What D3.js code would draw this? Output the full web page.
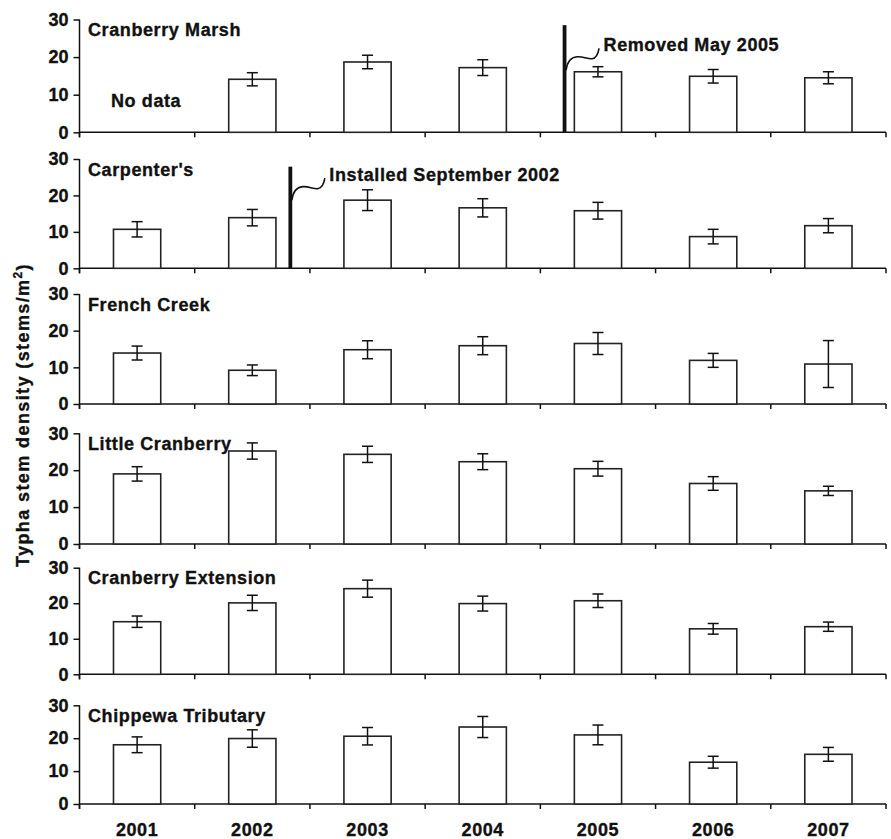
<!DOCTYPE html>
<html lang="en">
<head>
<meta charset="UTF-8" />
<title>Typha stem density</title>
<style>
  body { margin: 0; background: #fff; }
  text { font-family: "Liberation Sans", Arial, sans-serif; font-weight: bold; fill: #111; stroke: #111; stroke-width: 0.35px; }
</style>
</head>
<body>
<div id="chart"></div>
<script src="https://d3js.org/d3.v7.min.js"></script>
<script>
const width = 891;
const height = 839;

const years = ["2001", "2002", "2003", "2004", "2005", "2006", "2007"];
const sites = ["Cranberry Marsh", "Carpenter's", "French Creek", "Little Cranberry", "Cranberry Extension", "Chippewa Tributary"];
const yTicks = [0, 10, 20, 30];

// mean stem density per year (null = no data)
const cranberryMarsh = [null, 14.1, 18.7, 17.2, 16.1, 14.9, 14.5];
const carpenters = [10.7, 13.9, 18.7, 16.6, 15.8, 8.7, 11.7];
const frenchCreek = [13.9, 9.2, 14.8, 15.9, 16.5, 11.9, 10.9];
const littleCranberry = [19.0, 25.2, 24.3, 22.3, 20.4, 16.4, 14.4];
const cranberryExtension = [14.8, 20.1, 24.1, 19.9, 20.7, 12.8, 13.4];
const chippewaTributary = [18.0, 19.9, 20.6, 23.4, 21.0, 12.7, 15.1];

// standard errors
const cranberryMarshSE = [null, 1.75, 1.8, 2.1, 1.35, 1.8, 1.6];
const carpentersSE = [2.1, 2.25, 2.85, 2.5, 2.3, 2.0, 1.95];
const frenchCreekSE = [1.9, 1.45, 2.45, 2.45, 3.0, 1.9, 6.4];
const littleCranberrySE = [1.95, 2.2, 2.2, 2.15, 2.0, 1.85, 1.25];
const cranberryExtensionSE = [1.6, 2.15, 2.4, 2.1, 1.9, 1.5, 1.3];
const chippewaTributarySE = [2.4, 2.65, 2.65, 3.2, 3.0, 1.8, 2.1];

const means = [cranberryMarsh, carpenters, frenchCreek, littleCranberry, cranberryExtension, chippewaTributary];
const errors = [cranberryMarshSE, carpentersSE, frenchCreekSE, littleCranberrySE, cranberryExtensionSE, chippewaTributarySE];

// wetland treatment events
const events = [
  { site: 0, year: "2005", frac: 0.21, top: 28.5, hook: 16.5, label: "Removed May 2005" },
  { site: 1, year: "2002", frac: 0.83, top: 27.9, hook: 18.7, label: "Installed September 2002" }
];

// panel layout: pixel row of the 30 line and of the 0 line
const panelTop = [19.5, 159, 294, 433.3, 567.7, 705.3];
const panelBottom = [132.3, 268.3, 404, 544, 674.3, 804];

const svg = d3.select("#chart")
  .append("svg")
  .attr("width", width)
  .attr("height", height);

const x = d3.scaleBand()
  .domain(years)
  .range([79.5, 886])
  .padding(0);

const barW = x.bandwidth() * 0.41;
const capW = 11;

sites.forEach(function (site, i) {
  const y = d3.scaleLinear()
    .domain([0, 30])
    .range([panelBottom[i], panelTop[i]]);

  const g = svg.append("g");

  // y axis
  const yAxis = g.append("g")
    .attr("transform", "translate(" + x.range()[0] + ",0)")
    .call(d3.axisLeft(y).tickValues(yTicks).tickSize(6).tickPadding(5));
  yAxis.select(".domain").attr("d", "M0," + y(30) + "V" + (y(0) + 5)).attr("stroke", "#111").attr("stroke-width", 1.5);
  yAxis.selectAll(".tick line").attr("stroke", "#111").attr("stroke-width", 1.5);
  yAxis.selectAll(".tick text").attr("font-size", 18).attr("font-family", null).attr("fill", "#111");

  // x axis line with ticks at category boundaries
  const boundaries = years.map(function (d) { return x(d); }).concat([x.range()[1]]);
  g.append("line")
    .attr("x1", x.range()[0])
    .attr("x2", x.range()[1])
    .attr("y1", y(0))
    .attr("y2", y(0))
    .attr("stroke", "#111")
    .attr("stroke-width", 1.5);
  g.selectAll(".xtick")
    .data(boundaries)
    .enter()
    .append("line")
    .attr("x1", function (d) { return d; })
    .attr("x2", function (d) { return d; })
    .attr("y1", y(0))
    .attr("y2", y(0) + 5)
    .attr("stroke", "#111")
    .attr("stroke-width", 1.5);

  const rows = years.map(function (yr, j) {
    return { year: yr, mean: means[i][j], se: errors[i][j] };
  }).filter(function (d) { return d.mean !== null; });

  // bars
  g.selectAll(".bar")
    .data(rows)
    .enter()
    .append("rect")
    .attr("x", function (d) { return x(d.year) + (x.bandwidth() - barW) / 2; })
    .attr("y", function (d) { return y(d.mean); })
    .attr("width", barW)
    .attr("height", function (d) { return y(0) - y(d.mean); })
    .attr("fill", "#fff")
    .attr("stroke", "#222")
    .attr("stroke-width", 1.6);

  // error bars
  const err = g.selectAll(".err")
    .data(rows)
    .enter()
    .append("g")
    .attr("stroke", "#111")
    .attr("stroke-width", 1.5);
  err.append("line")
    .attr("x1", function (d) { return x(d.year) + x.bandwidth() / 2; })
    .attr("x2", function (d) { return x(d.year) + x.bandwidth() / 2; })
    .attr("y1", function (d) { return y(d.mean + d.se); })
    .attr("y2", function (d) { return y(d.mean - d.se); });
  [1, -1].forEach(function (s) {
    err.append("line")
      .attr("x1", function (d) { return x(d.year) + x.bandwidth() / 2 - capW / 2; })
      .attr("x2", function (d) { return x(d.year) + x.bandwidth() / 2 + capW / 2; })
      .attr("y1", function (d) { return y(d.mean + s * d.se); })
      .attr("y2", function (d) { return y(d.mean + s * d.se); });
  });

  // panel title
  g.append("text")
    .attr("x", 88)
    .attr("y", y(30) + 16.5)
    .attr("font-size", 18)
    .attr("letter-spacing", 0.6)
    .text(site);

  if (i === 0) {
    g.append("text")
      .attr("x", x("2001") + 31.5)
      .attr("y", y(6.8))
      .attr("font-size", 18)
      .attr("letter-spacing", 0.6)
      .text("No data");
  }

  events.filter(function (e) { return e.site === i; }).forEach(function (e) {
    const ex = x(e.year) + e.frac * x.bandwidth();
    g.append("line")
      .attr("x1", ex)
      .attr("x2", ex)
      .attr("y1", y(e.top))
      .attr("y2", y(0))
      .attr("stroke", "#111")
      .attr("stroke-width", 3.8);
    const hx = ex + 1.5;
    const hy = y(e.hook);
    g.append("path")
      .attr("d", "M" + hx + "," + hy +
        " C" + (hx + 1) + "," + (hy - 8) + " " + (hx + 5) + "," + (hy - 13) + " " + (hx + 11) + "," + (hy - 13.5) +
        " C" + (hx + 17) + "," + (hy - 14) + " " + (hx + 21) + "," + (hy - 11) + " " + (hx + 26) + "," + (hy - 11.5) +
        " C" + (hx + 30) + "," + (hy - 12) + " " + (hx + 32) + "," + (hy - 16) + " " + (hx + 33) + "," + (hy - 22))
      .attr("fill", "none")
      .attr("stroke", "#111")
      .attr("stroke-width", 1.6);
    g.append("text")
      .attr("x", hx + 37.5)
      .attr("y", hy - 19.5)
      .attr("font-size", 18)
      .attr("letter-spacing", 0.6)
      .text(e.label);
  });

  if (i === sites.length - 1) {
    g.selectAll(".year")
      .data(years)
      .enter()
      .append("text")
      .attr("x", function (d) { return x(d) + x.bandwidth() / 2; })
      .attr("y", y(0) + 32)
      .attr("text-anchor", "middle")
      .attr("font-size", 18)
      .attr("letter-spacing", 0.6)
      .text(function (d) { return d; });
  }
});

// y axis title
const yTitle = svg.append("text")
  .attr("transform", "translate(29,415) rotate(-90)")
  .attr("text-anchor", "middle")
  .attr("font-size", 18)
  .attr("letter-spacing", 1.4);
yTitle.append("tspan").text("Typha stem density (stems/m");
yTitle.append("tspan").attr("font-size", 12).attr("dy", -7).text("2");
yTitle.append("tspan").attr("dy", 7).text(")");
</script>
</body>
</html>
